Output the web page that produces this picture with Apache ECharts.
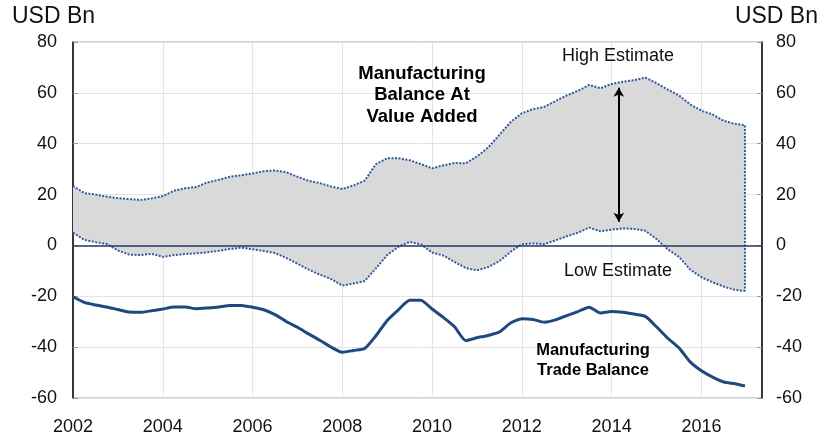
<!DOCTYPE html>
<html>
<head>
<meta charset="utf-8">
<style>
  html, body { margin: 0; padding: 0; background: #fff; }
  #main { width: 820px; height: 442px; }
</style>
<script src="https://cdn.jsdelivr.net/npm/echarts@6/dist/echarts.min.js"></script>
</head>
<body>
<div id="main"></div>
<script>
// quarterly points, 2002 Q1 .. end 2016
var quarters = Array.from({ length: 60 }, function (_, i) { return 2002 + i * 0.25; }).concat([2016.97]);

var highEstimate = [
  23.4, 20.6, 20.0, 19.2, 18.6, 18.2, 17.9, 18.5,
  19.4, 21.5, 22.5, 23.0, 24.8, 25.8, 27.0, 27.6,
  28.3, 29.2, 29.5, 28.8, 27.0, 25.4, 24.5, 23.2,
  22.2, 23.6, 25.5, 32.0, 34.3, 34.3, 33.5, 32.0,
  30.3, 31.5, 32.4, 32.3, 35.0, 38.5, 43.5, 48.5,
  52.0, 53.6, 54.5, 56.8, 59.0, 60.8, 63.1, 61.8,
  63.5, 64.4, 65.0, 66.0, 63.8, 61.3, 59.0, 55.5,
  53.0, 51.5, 49.0, 47.8, 47.3
];

var lowEstimate = [
  5.0, 2.2, 1.3, 0.6, -2.0, -3.6, -3.8, -3.3,
  -4.5, -3.8, -3.4, -3.1, -2.7, -2.1, -1.4, -0.9,
  -1.5, -2.2, -3.0, -4.9, -7.2, -9.5, -11.5, -13.2,
  -15.8, -15.0, -14.0, -9.0, -3.8, -0.5, 1.4, 0.4,
  -2.8, -4.0, -6.5, -8.9, -9.8, -8.5, -6.2, -2.5,
  0.5, 0.8, 0.5, 2.0, 3.6, 5.0, 7.0, 5.6,
  6.2, 6.7, 6.5, 5.8, 2.5, -1.5, -4.5, -9.5,
  -12.5, -14.5, -16.2, -17.5, -17.9
];

var tradeBalance = [
  -20.2, -22.4, -23.4, -24.2, -25.2, -26.2, -26.3, -25.7,
  -25.0, -24.2, -24.2, -24.9, -24.6, -24.2, -23.6, -23.6,
  -24.3, -25.3, -27.2, -29.9, -32.2, -34.8, -37.3, -40.0,
  -42.0, -41.3, -40.5, -35.5, -29.5, -25.3, -21.6, -21.6,
  -25.0, -28.3, -32.0, -37.4, -36.3, -35.4, -34.0, -30.5,
  -28.8, -29.1, -30.2, -29.3, -27.6, -26.0, -24.3, -26.6,
  -26.0, -26.3, -27.0, -27.9, -32.0, -36.5, -40.3, -45.8,
  -49.3, -51.8, -53.7, -54.4, -55.3
];

var yTicks = { min: -60, max: 80, interval: 20 };
var xTicks = { min: 2002, max: 2017.35, interval: 2 };

// double arrow showing the gap between the estimates
var gapArrow = { x: 2014.16, top: 62.0, bottom: 9.3 };

var pair = function (ys) { return quarters.map(function (x, i) { return [x, ys[i]]; }); };
var last = quarters.length - 1;
var highBorder = pair(highEstimate).concat([[quarters[last], lowEstimate[last]]]);

var FONT = 'Liberation Sans';
var dotBlue = '#2e5a9c';

var myChart = echarts.init(document.getElementById('main'));
myChart.setOption({
  animation: false,
  textStyle: { fontFamily: FONT },
  grid: {
    left: 73, right: 58, top: 42, bottom: 44,
    show: true, borderColor: '#a6a6a6', borderWidth: 1
  },
  xAxis: {
    type: 'value',
    min: xTicks.min, max: xTicks.max, interval: xTicks.interval,
    axisLine: { show: false },
    axisTick: { show: false },
    splitLine: { lineStyle: { color: '#e4e4e4', width: 1 } },
    axisLabel: {
      showMaxLabel: false,
      margin: 20,
      color: '#111', fontSize: 18, fontFamily: FONT,
      formatter: function (v) { return String(Math.round(v)); }
    }
  },
  yAxis: [{
    type: 'value',
    min: yTicks.min, max: yTicks.max, interval: yTicks.interval,
    axisLine: { show: true, lineStyle: { color: '#000', width: 1.5 } },
    axisTick: { show: true, inside: true, length: 5, lineStyle: { color: '#999' } },
    splitLine: { lineStyle: { color: '#e4e4e4', width: 1 } },
    axisLabel: { margin: 16, color: '#111', fontSize: 18, fontFamily: FONT }
  }, {
    type: 'value',
    position: 'right',
    min: yTicks.min, max: yTicks.max, interval: yTicks.interval,
    axisLine: { show: true, lineStyle: { color: '#000', width: 1.5 } },
    axisTick: { show: true, inside: true, length: 5, lineStyle: { color: '#999' } },
    splitLine: { show: false },
    axisLabel: { margin: 14, color: '#111', fontSize: 18, fontFamily: FONT }
  }],
  graphic: [
    { type: 'text', z: 100, left: 12, top: 5, style: { text: 'USD Bn', fontSize: 23, fontFamily: FONT, fill: '#111' } },
    { type: 'text', z: 100, right: 2, top: 5, style: { text: 'USD Bn', fontSize: 23, fontFamily: FONT, fill: '#111' } },
    { type: 'text', z: 100, x: 422, y: 63, style: { text: 'Manufacturing\nBalance At\nValue Added', align: 'center', lineHeight: 21.5, fontSize: 18.5, fontWeight: 'bold', fontFamily: FONT, fill: '#000' } },
    { type: 'text', z: 100, x: 618, y: 56.5, style: { text: 'High Estimate', align: 'center', verticalAlign: 'middle', fontSize: 18, fontFamily: FONT, fill: '#111' } },
    { type: 'text', z: 100, x: 618, y: 271, style: { text: 'Low Estimate', align: 'center', verticalAlign: 'middle', fontSize: 18, fontFamily: FONT, fill: '#111' } },
    { type: 'text', z: 100, x: 593, y: 340, style: { text: 'Manufacturing\nTrade Balance', align: 'center', lineHeight: 20, fontSize: 16.5, fontWeight: 'bold', fontFamily: FONT, fill: '#000' } }
  ],
  series: [{
    // grey band between low and high estimates
    name: 'band',
    type: 'custom',
    coordinateSystem: 'cartesian2d',
    silent: true,
    data: [[quarters[0], highEstimate[0]]],
    renderItem: function (params, api) {
      var pts = [];
      quarters.forEach(function (x, i) { pts.push(api.coord([x, highEstimate[i]])); });
      for (var i = quarters.length - 1; i >= 0; i--) pts.push(api.coord([quarters[i], lowEstimate[i]]));
      return { type: 'polygon', shape: { points: pts }, style: { fill: '#d9d9d9' } };
    }
  }, {
    name: 'High Estimate',
    type: 'line',
    data: highBorder,
    symbol: 'none',
    lineStyle: { color: dotBlue, width: 2, type: [2, 1.5] },
    markLine: {
      silent: true,
      symbol: 'none',
      label: { show: false },
      lineStyle: { color: '#1f3864', width: 1.5, type: 'solid' },
      data: [{ yAxis: 0 }]
    }
  }, {
    name: 'Low Estimate',
    type: 'line',
    data: pair(lowEstimate),
    symbol: 'none',
    lineStyle: { color: dotBlue, width: 2, type: [2, 1.5] }
  }, {
    name: 'Manufacturing Trade Balance',
    type: 'line',
    data: pair(tradeBalance),
    symbol: 'none',
    smooth: 0.2,
    lineStyle: { color: '#1f497d', width: 3 },
    markLine: {
      silent: true,
      symbol: ['arrow', 'arrow'],
      symbolSize: [8, 9],
      label: { show: false },
      lineStyle: { color: '#000', width: 2, type: 'solid' },
      data: [[{ coord: [gapArrow.x, gapArrow.top] }, { coord: [gapArrow.x, gapArrow.bottom] }]]
    }
  }]
});
</script>
</body>
</html>
